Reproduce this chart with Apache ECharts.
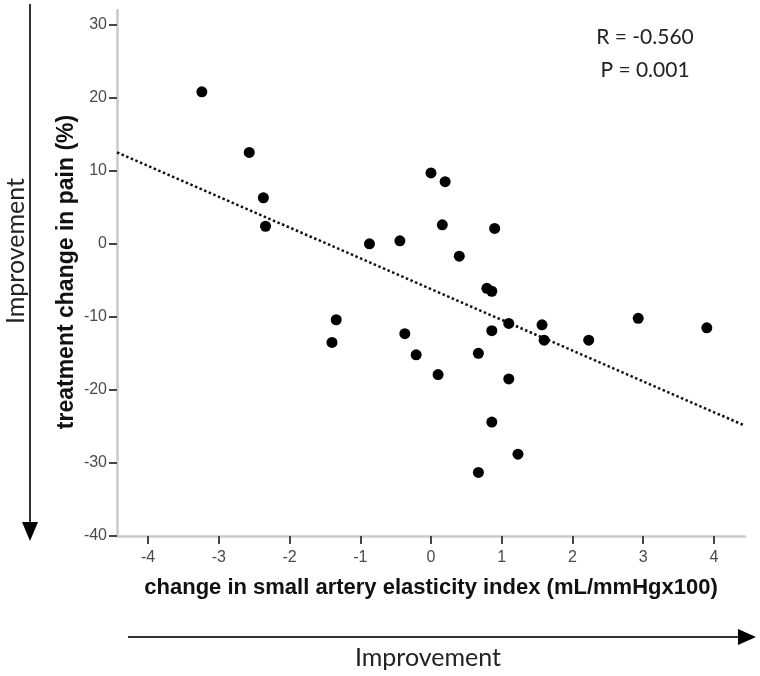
<!DOCTYPE html>
<html>
<head>
<meta charset="utf-8">
<script src="https://cdn.jsdelivr.net/npm/echarts@6/dist/echarts.min.js"></script>
<style>
html,body{margin:0;padding:0;background:#fff;}
#chart{width:760px;height:676px;}
</style>
</head>
<body>
<div id="chart"></div>
<script>
// Data
var xValues = [-3.24,-2.57,-2.37,-2.34,-0.87,-0.44,0.00,0.20,0.16,0.90,0.40,0.79,0.86,-1.34,-1.40,-0.37,-0.21,0.10,0.67,0.86,1.10,1.57,1.60,1.10,0.86,1.23,0.67,2.93,3.90,2.23];
var yValues = [20.8,12.5,6.3,2.4,0.0,0.4,9.7,8.5,2.6,2.1,-1.7,-6.1,-6.5,-10.4,-13.5,-12.3,-15.2,-17.9,-15.0,-11.9,-10.9,-11.1,-13.2,-18.5,-24.4,-28.8,-31.3,-10.2,-11.5,-13.2];
var fitX = [-4.44, 4.44];
var fitY = [12.5, -24.9];
var xTicks = [-4,-3,-2,-1,0,1,2,3,4];
var yTicks = [-40,-30,-20,-10,0,10,20,30];
var xTitle = 'change in small artery elasticity index (mL/mmHgx100)';
var yTitle = 'treatment change in pain (%)';
var statR = 'R = -0.560';
var statP = 'P = 0.001';
var arrowLabel = 'Improvement';

var points = xValues.map(function(x,i){return [x, yValues[i]];});
var fitLine = fitX.map(function(x,i){return [x, fitY[i]];});

var chart = echarts.init(document.getElementById('chart'), null, {renderer:'canvas'});
var tickFont = {fontFamily:'"Liberation Sans",Arial,sans-serif', fontSize:16, color:'#4a4a4a'};
var option = {
  backgroundColor:'#fff',
  animation:false,
  grid:{left:117, right:15, top:10, bottom:140},
  xAxis:{
    type:'value', min:-4.44, max:4.44,
    axisLine:{show:true, onZero:false, lineStyle:{color:'#cacaca', width:2.5}},
    axisTick:{show:true, length:8, customValues:xTicks, lineStyle:{color:'#444', width:2}},
    axisLabel:Object.assign({margin:14, customValues:xTicks}, tickFont),
    splitLine:{show:false}
  },
  yAxis:{
    type:'value', min:-40, max:32,
    axisLine:{show:true, onZero:false, lineStyle:{color:'#cacaca', width:2.5}},
    axisTick:{show:true, length:8, customValues:yTicks, lineStyle:{color:'#444', width:2}},
    axisLabel:Object.assign({margin:10, customValues:yTicks}, tickFont),
    splitLine:{show:false}
  },
  series:[
    {type:'line', data:fitLine, symbol:'none', silent:true,
     lineStyle:{color:'#111', width:2.5, type:[2.5,2.5]}, z:2},
    {type:'scatter', data:points, symbol:'circle', symbolSize:11,
     itemStyle:{color:'#000', opacity:1}, z:3}
  ],
  graphic:[
    {type:'text', x:431, y:588, style:{text:xTitle, font:'bold 22px "Liberation Sans", Arial, sans-serif', fill:'#111', textAlign:'center', textVerticalAlign:'middle'}},
    {type:'text', x:67, y:272, rotation:Math.PI/2, style:{text:yTitle, font:'bold 23px "Liberation Sans", Arial, sans-serif', fill:'#111', textAlign:'center', textVerticalAlign:'middle'}},
    {type:'text', x:645, y:37, style:{text:statR, font:'21px Lato, "Open Sans", sans-serif', fill:'#222', textAlign:'center', textVerticalAlign:'middle'}},
    {type:'text', x:645, y:70, style:{text:statP, font:'21px Lato, "Open Sans", sans-serif', fill:'#222', textAlign:'center', textVerticalAlign:'middle'}},
    // vertical arrow
    {type:'line', shape:{x1:30, y1:4, x2:30, y2:524}, style:{stroke:'#333', lineWidth:2}},
    {type:'polygon', shape:{points:[[22,522],[38,522],[30,541]]}, style:{fill:'#000'}},
    {type:'text', x:16, y:251, rotation:Math.PI/2, style:{text:arrowLabel, font:'25px Lato, "Open Sans", sans-serif', fill:'#222', textAlign:'center', textVerticalAlign:'middle'}},
    // horizontal arrow
    {type:'line', shape:{x1:128, y1:637, x2:740, y2:637}, style:{stroke:'#333', lineWidth:2}},
    {type:'polygon', shape:{points:[[738,629],[738,645],[756,637]]}, style:{fill:'#000'}},
    {type:'text', x:428, y:658, style:{text:arrowLabel, font:'25px Lato, "Open Sans", sans-serif', fill:'#222', textAlign:'center', textVerticalAlign:'middle'}}
  ]
};
chart.setOption(option);
</script>
</body>
</html>
